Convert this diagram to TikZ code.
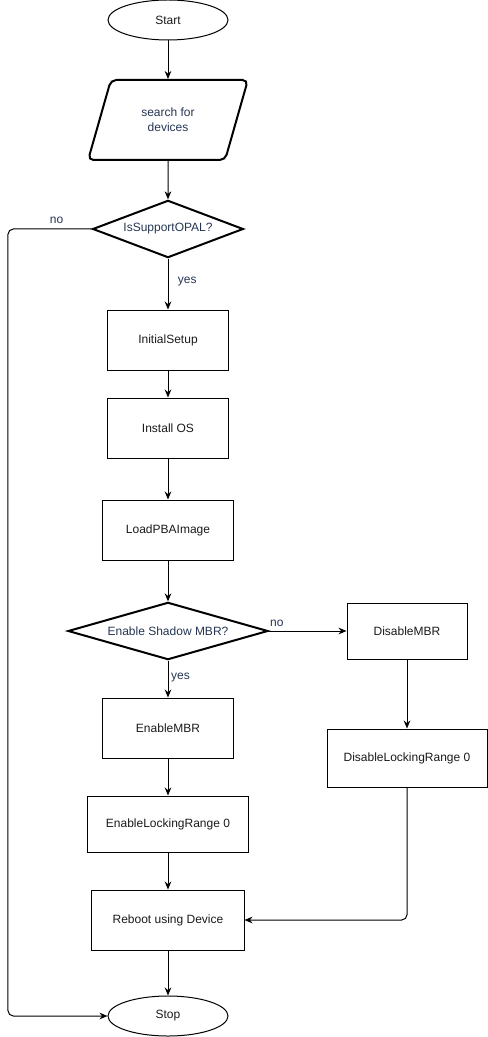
\documentclass[tikz,border=0pt]{standalone}
\usepackage{fontspec}
\setmainfont{Liberation Sans}
\usetikzlibrary{shapes.geometric,arrows.meta,positioning}
\definecolor{labelblue}{HTML}{253552}
\definecolor{boxtext}{HTML}{1A1A1A}

\begin{document}
\begin{tikzpicture}[node distance=72pt,on grid,
    font=\fontsize{9}{11}\selectfont,
    terminal/.style={ellipse,draw,line width=0.75pt,minimum width=90pt,minimum height=30pt,inner sep=0pt,text=boxtext},
    process/.style={rectangle,draw,line width=0.75pt,minimum height=45pt,inner sep=0pt,text=boxtext},
    decision/.style={diamond,draw,line width=1.5pt,inner sep=0pt,minimum height=43pt,text=labelblue},
    io/.style={trapezium,trapezium left angle=69,trapezium right angle=111,trapezium stretches=true,
      draw,line width=1.5pt,rounded corners=4pt,minimum width=120pt,minimum height=60pt,
      align=center,text=labelblue},
    flow/.style={-{Stealth[length=6pt,width=5pt]},line width=0.75pt},
    tag/.style={text=labelblue,inner sep=1pt}]
  \useasboundingbox (-126pt,15pt) rectangle (240pt,-762.75pt);

  \node[terminal] (start) {Start};
  \node[io] (search) [below=75pt of start] {search for\\devices};
  \node[decision,aspect=2.6,minimum width=113pt] (opal) [below=81.75pt of search] {IsSupportOPAL?};
  \node[process,minimum width=90pt] (setup) [below=83.25pt of opal] {InitialSetup};
  \node[process,minimum width=90pt] (os) [below=66pt of setup] {Install OS};
  \node[process,minimum width=98pt] (pba) [below=76.5pt of os] {LoadPBAImage};
  \node[decision,aspect=3.5,minimum width=150pt] (shadow) [below=75.75pt of pba] {Enable Shadow MBR?};
  \node[process,minimum width=90pt,minimum height=42pt] (dismbr) [right=179.25pt of shadow] {DisableMBR};
  \node[process,minimum width=120pt,minimum height=43.5pt] (dislr) [below=95.25pt of dismbr] {DisableLockingRange 0};
  \node[process,minimum width=98pt] (enmbr) [below=72.75pt of shadow] {EnableMBR};
  \node[process,minimum width=120pt,minimum height=42pt] (enlr) [below=of enmbr] {EnableLockingRange 0};
  \node[process,minimum width=114pt] (reboot) [below=of enlr] {Reboot using Device};
  \node[terminal] (stop) [below=of reboot] {Stop};
  \coordinate (rail) at (-120pt,0pt);

  \path[flow]
    (start) edge (search)
    (search) edge (opal)
    (opal) edge node[tag,right,pos=0.45,xshift=6pt]{yes} (setup)
    (setup) edge (os)
    (os) edge (pba)
    (pba) edge (shadow)
    (shadow) edge node[tag,right,pos=0.45,xshift=1pt]{yes} (enmbr)
    (shadow) edge node[tag,above,pos=0.1,yshift=2pt]{no} (dismbr)
    (dismbr) edge (dislr)
    (enmbr) edge (enlr)
    (enlr) edge (reboot)
    (reboot) edge (stop);
  % side paths
  \draw[flow,rounded corners=4pt] (opal.west) -- node[tag,above,pos=0.42,yshift=3pt]{no} (opal.west -| rail) |- (stop.west);
  \draw[flow,rounded corners=4pt] (dislr.south) |- (reboot.east);
\end{tikzpicture}
\end{document}
